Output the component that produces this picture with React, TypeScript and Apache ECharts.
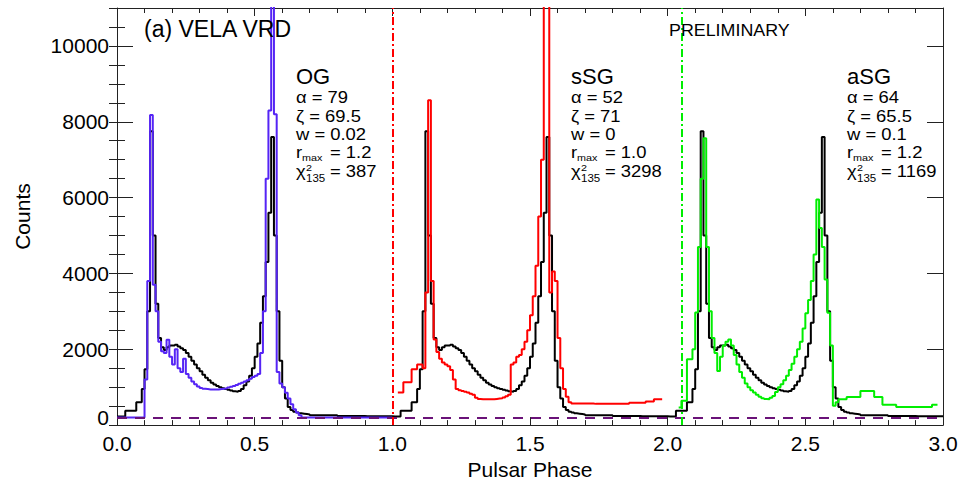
import React, { useEffect, useRef } from "react";
import * as echarts from "echarts";

const FONT = "'Liberation Sans', Arial, Helvetica, sans-serif";
const BIN_WIDTH = 0.01;
const PHASE_CYCLES = [0, 1, 2];

// Observed Vela profile (black), one rotation, bins of 0.01 starting at phase 0
const blackCounts = [
  225, 225, 225, 380, 380, 380, 380, 600, 600, 950,
  1470, 3000, 7750, 5000, 3200, 2300, 2050, 1980, 2050, 2100,
  2100, 2120, 2070, 2030, 1980, 1900, 1800, 1700, 1600, 1500,
  1420, 1330, 1250, 1180, 1120, 1070, 1030, 1000, 970, 950,
  930, 910, 890, 880, 900, 950, 1050, 1150, 1300, 1500,
  1800, 2150, 2700, 3400, 4300, 5600, 7600, 5000, 3000, 1700,
  1000, 700, 480, 400, 350, 330, 310, 300, 290, 280,
  260, 260, 260, 260, 260, 260, 260, 260, 260, 260,
  240, 240, 240, 240, 240, 240, 240, 240, 240, 240,
  235, 235, 235, 235, 235, 235, 235, 235, 235, 235,
];

// OG model (blue), bins from phase 0.00
const blueStart = 0;
const blueCounts = [
  200, 200, 200, 200, 200, 200, 200, 200, 200, 200,
  1200, 3800, 8180, 3700, 3000, 2200, 1950, 1900, 2250, 1800,
  1600, 2000, 1500, 1400, 1750, 1350, 1250, 1150, 1080, 1020,
  980, 960, 950, 940, 940, 940, 940, 950, 960, 970,
  990, 1010, 1030, 1060, 1090, 1120, 1150, 1180, 1220, 1270,
  1300, 1350, 1900, 3000, 6500, 8300, 12000, 8200, 1400, 1100,
  1000, 850, 700, 550, 420, 330, 260, 200, 200, 200,
  200, 200, 200, 200, 200, 200, 200, 200, 200, 200,
  200, 200, 200, 200, 200, 200, 200, 200, 200, 200,
  200, 200, 200, 200, 200, 200, 200, 200, 200, 200,
];

// sSG model (red), bins from phase 1.02
const redStart = 1.02;
const redCounts = [
  860, 860, 1130, 1130, 1130, 1470, 1470, 1600, 1600, 1500,
  3500, 8570, 3800, 2260, 1930, 1750, 1650, 1600, 1550, 1450,
  1200, 950, 920, 900, 880, 860, 830, 800, 720, 690,
  680, 680, 680, 680, 680, 690, 700, 710, 730, 760,
  800, 1600, 1650, 1800, 1850, 2000, 2200, 2500, 2900, 3400,
  4200, 5500, 7000, 12000, 12000, 3500, 4050, 3800, 2300, 1500,
  950, 750, 600, 570, 570, 570, 570, 570, 570, 570,
  570, 560, 560, 560, 560, 560, 560, 560, 560, 560,
  560, 560, 560, 560, 590, 590, 590, 590, 590, 590,
  620, 620, 620, 680, 680, 680,
];

// aSG model (green), bins from phase 2.04
const greenStart = 2.04;
const greenCounts = [
  465, 640, 640, 1736, 1736, 2000, 2970, 4700, 6500, 7565,
  4700, 3000, 2300, 1900, 1430, 1800, 2100, 2200, 2260, 2100,
  1850, 1600, 1400, 1250, 1100, 1000, 920, 860, 800, 750,
  710, 690, 684, 720, 770, 870, 1000, 1080, 1180, 1300,
  1450, 1620, 1800, 2000, 2200, 2550, 2950, 3300, 3800, 4500,
  5950, 5200, 4700, 3840, 2960, 2100, 510, 600, 680, 680,
  680, 740, 740, 740, 740, 740, 900, 900, 900, 900,
  900, 744, 744, 744, 534, 534, 534, 534, 534, 480,
  480, 480, 480, 480, 480, 480, 480, 480, 480, 480,
  480, 480, 534, 534,
];

const backgroundLevel = 200;
const redLinePhase = 1.0;
const greenLinePhase = 2.05;

const xTickLabels = ["0.0", "0.5", "1.0", "1.5", "2.0", "2.5", "3.0"];
const yTickValues = [0, 2000, 4000, 6000, 8000, 10000];

const modelNames = ["OG", "sSG", "aSG"];
const alphaValues = ["79", "52", "64"];
const zetaValues = ["69.5", "71", "65.5"];
const wValues = ["0.02", "0", "0.1"];
const rmaxValues = ["1.2", "1.0", "1.2"];
const chi2Values = ["387", "3298", "1169"];
const modelLabelX = [296, 571, 847];

function binsToSteps(start: number, counts: number[]): [number, number][] {
  const pts: [number, number][] = counts.map((c, i) => [
    Number((start + i * BIN_WIDTH).toFixed(4)),
    c,
  ]);
  pts.push([Number((start + counts.length * BIN_WIDTH).toFixed(4)), counts[counts.length - 1]]);
  return pts;
}

function blackSteps(): [number, number][] {
  const pts: [number, number][] = [];
  PHASE_CYCLES.forEach((cyc) => {
    blackCounts.forEach((c, i) => {
      pts.push([Number((cyc + i * BIN_WIDTH).toFixed(4)), c]);
    });
  });
  pts.push([PHASE_CYCLES.length, blackCounts[blackCounts.length - 1]]);
  return pts;
}

function txt(text: string, x: number, y: number, size: number, scaleX = 1): any {
  return {
    type: "text",
    x,
    y,
    scaleX,
    z: 100,
    silent: true,
    style: {
      text,
      fontSize: size,
      fontFamily: FONT,
      fill: "#000",
      align: "left",
      verticalAlign: "middle",
    },
  };
}

function buildGraphics(): any[] {
  const g: any[] = [];
  g.push(txt("(a) VELA VRD", 144, 29, 23));
  g.push(txt("PRELIMINARY", 669, 30, 17, 1.05));
  const SX = 1.15;
  const F = 16;
  modelNames.forEach((name, k) => {
    const x0 = modelLabelX[k];
    g.push(txt(name, x0, 76, 22));
    g.push(txt("\u03b1 = " + alphaValues[k], x0, 97, F, SX));
    g.push(txt("\u03b6 = " + zetaValues[k], x0, 116, F, SX));
    g.push(txt("w = " + wValues[k], x0, 134.5, F, SX));
    g.push(txt("r", x0, 152.5, F, SX));
    g.push(txt("max", x0 + 6, 157.5, 9, 1.2));
    g.push(txt("= " + rmaxValues[k], x0 + 34, 152.5, F, SX));
    g.push(txt("\u03c7", x0, 171.5, F, SX));
    g.push(txt("2", x0 + 10, 167.5, 9, 1.2));
    g.push(txt("135", x0 + 10, 178.5, 10, 1.15));
    g.push(txt("= " + chi2Values[k], x0 + 34, 171.5, F, SX));
  });
  return g;
}

const AXIS_COLOR = "#222";

export default function App() {
  const ref = useRef<HTMLDivElement>(null);
  useEffect(() => {
    if (!ref.current) return;
    const chart = echarts.init(ref.current, undefined, { renderer: "svg" });
    const xCommon = {
      type: "value",
      min: 0,
      max: 3,
      interval: 0.5,
      splitLine: { show: false },
      axisLine: { show: true, onZero: false, lineStyle: { color: AXIS_COLOR, width: 1 } },
      axisTick: { show: true, inside: true, length: 8, lineStyle: { color: AXIS_COLOR, width: 1 } },
      minorTick: { show: true, splitNumber: 5, length: 5, lineStyle: { color: AXIS_COLOR, width: 1 } },
    };
    const yMajor = {
      type: "value",
      min: 0,
      max: 11000,
      interval: 2000,
      splitLine: { show: false },
      axisLine: { show: true, onZero: false, lineStyle: { color: AXIS_COLOR, width: 1 } },
      axisTick: { show: true, inside: true, length: 16, lineStyle: { color: AXIS_COLOR, width: 1 } },
    };
    const yMinor = {
      type: "value",
      min: 0,
      max: 11000,
      interval: 500,
      splitLine: { show: false },
      axisLine: { show: false },
      axisLabel: { show: false },
      axisTick: { show: true, inside: true, length: 8, lineStyle: { color: AXIS_COLOR, width: 1 } },
    };
    const option: any = {
      animation: false,
      backgroundColor: "#fff",
      grid: { left: 117, right: 18, top: 8, bottom: 59, containLabel: false },
      xAxis: [
        {
          ...xCommon,
          position: "bottom",
          name: "Pulsar Phase",
          nameLocation: "middle",
          nameGap: 29,
          nameTextStyle: { fontSize: 21, fontFamily: FONT, color: "#000" },
          axisLabel: {
            show: true,
            margin: 8,
            fontSize: 21,
            fontFamily: FONT,
            color: "#000",
            formatter: (v: number) => {
              const idx = Math.round(v / 0.5);
              return xTickLabels[idx] ?? "";
            },
          },
        },
        { ...xCommon, position: "top", axisLabel: { show: false } },
      ],
      yAxis: [
        {
          ...yMajor,
          position: "left",
          name: "Counts",
          nameLocation: "middle",
          nameGap: 84,
          nameTextStyle: { fontSize: 21, fontFamily: FONT, color: "#000" },
          axisLabel: {
            show: true,
            margin: 8,
            fontSize: 21,
            fontFamily: FONT,
            color: "#000",
            formatter: (v: number) => {
              if (!yTickValues.includes(v)) return "";
              return v === 0 ? "{z|0}" : String(v);
            },
            rich: {
              z: { fontSize: 21, fontFamily: FONT, color: "#000", padding: [0, 0, 16, 0] },
            },
          },
        },
        { ...yMinor, position: "left" },
        { ...yMajor, position: "right", axisLabel: { show: false } },
        { ...yMinor, position: "right" },
      ],
      series: [
        {
          type: "line",
          name: "Vela",
          data: blackSteps(),
          step: "end",
          showSymbol: false,
          symbol: "none",
          clip: true,
          lineStyle: { color: "#000", width: 2 },
          silent: true,
          z: 2,
        },
        {
          type: "line",
          name: "OG",
          data: binsToSteps(blueStart, blueCounts),
          step: "end",
          showSymbol: false,
          symbol: "none",
          clip: true,
          lineStyle: { color: "#5524f5", width: 2 },
          silent: true,
          z: 3,
        },
        {
          type: "line",
          name: "sSG",
          data: binsToSteps(redStart, redCounts),
          step: "end",
          showSymbol: false,
          symbol: "none",
          clip: true,
          lineStyle: { color: "#ff0000", width: 2 },
          silent: true,
          z: 3,
        },
        {
          type: "line",
          name: "aSG",
          data: binsToSteps(greenStart, greenCounts),
          step: "end",
          showSymbol: false,
          symbol: "none",
          clip: true,
          lineStyle: { color: "#00ee00", width: 2 },
          silent: true,
          z: 4,
          markLine: {
            silent: true,
            symbol: ["none", "none"],
            label: { show: false },
            animation: false,
            data: [
              { yAxis: backgroundLevel, lineStyle: { color: "#6a1278", width: 2, type: [10, 8] } },
              { xAxis: redLinePhase, lineStyle: { color: "#ff0000", width: 2, type: [8, 3, 2, 3] } },
              { xAxis: greenLinePhase, lineStyle: { color: "#00ee00", width: 2, type: [8, 3, 2, 3] } },
            ],
          },
        },
      ],
      graphic: buildGraphics(),
    };
    chart.setOption(option);
    return () => chart.dispose();
  }, []);
  return (
    <div
      ref={ref}
      style={{ position: "fixed", left: 0, top: 0, width: 961, height: 485, background: "#fff" }}
    />
  );
}
